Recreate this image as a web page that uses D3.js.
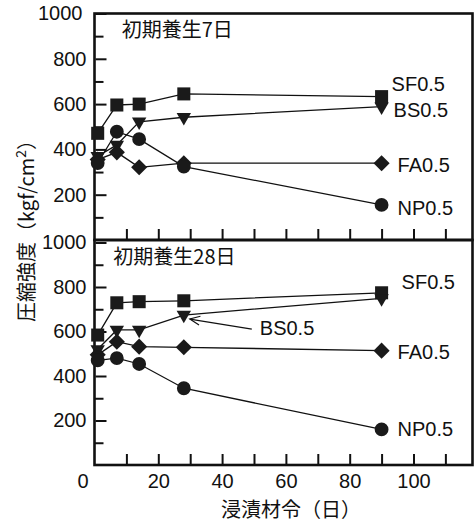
<!DOCTYPE html>
<html>
<head>
<meta charset="utf-8">
<script src="https://cdn.jsdelivr.net/npm/d3@7"></script>
<style>
  body { margin: 0; background: #fff; }
  svg { display: block; }
  text { font-family: "Liberation Sans", Arial, sans-serif; fill: #111; }
  .jp { font-family: "Noto Sans CJK JP", sans-serif; }
</style>
</head>
<body>
<div id="chart"></div>
<script>
// ages of immersion (days)
const days = [1, 7, 14, 28, 90];

// initial curing 7 days
const sf7 = [471, 596, 600, 645, 633];
const bs7 = [370, 420, 522, 542, 589];
const fa7 = [355, 387, 321, 339, 339];
const np7 = [340, 478, 445, 324, 155];

// initial curing 28 days
const sf28 = [584, 729, 734, 738, 774];
const bs28 = [520, 607, 607, 674, 749];
const fa28 = [495, 554, 532, 529, 514];
const np28 = [470, 480, 454, 345, 160];

const seriesNames = ["SF0.5", "BS0.5", "FA0.5", "NP0.5"];
const panelTitles = ["初期養生7日", "初期養生28日"];
const yMajor = [200, 400, 600, 800, 1000];
const yMinor = [100, 300, 500, 700, 900];
const xLabels = [0, 20, 40, 60, 80, 100];
const xTicks = [10, 20, 30, 40, 50, 60, 70, 80, 90, 100, 110];

const WD = 476, HT = 522;
const left = 94.5, right = 472.5;

const svg = d3.select("#chart").append("svg")
    .attr("width", WD)
    .attr("height", HT);

const x = d3.scaleLinear().domain([0, 118.5]).range([left, right]);

// marker shapes (diamond = rotated square)
const shapes = {
  "SF0.5": d3.symbol().type(d3.symbolSquare).size(170),
  "BS0.5": d3.symbol().type(d3.symbolTriangle).size(90),
  "FA0.5": d3.symbol().type(d3.symbolSquare).size(130),
  "NP0.5": d3.symbol().type(d3.symbolCircle).size(150)
};
const rot = { "SF0.5": 0, "BS0.5": 180, "FA0.5": 45, "NP0.5": 0 };

// label offsets from the last point of each series
const panels = [
  {
    title: panelTitles[0], top: 13.5, bottom: 240, yr: [240, 13.5],
    titlePos: [121.7, 30],
    series: [sf7, bs7, fa7, np7],
    labelOff: [[10, -13], [12, 3.5], [16, 2], [16, 3]]
  },
  {
    title: panelTitles[1], top: 240, bottom: 465, yr: [465, 242.5],
    titlePos: [113.3, 257],
    series: [sf28, bs28, fa28, np28],
    labelOff: [[20, -11], null, [16, 1], [16, 0]]
  }
];

panels.forEach(function(p, pi) {
  const y = d3.scaleLinear().domain([0, 1000]).range(p.yr);
  const g = svg.append("g");

  // y ticks (major, with labels)
  const ya = g.append("g")
      .attr("transform", "translate(" + left + ",0)")
      .call(d3.axisLeft(y).tickValues(yMajor).tickSize(-12).tickPadding(8).tickFormat(d3.format("d")));
  ya.select(".domain").remove();
  ya.selectAll("line").attr("stroke", "#111").attr("stroke-width", 2).attr("x1", 1);
  ya.selectAll("text").attr("font-size", 20).attr("fill", "#111")
      .attr("font-family", "Liberation Sans, Arial, sans-serif");
  if (pi == 0) {
    ya.selectAll(".tick").filter(d => d == 1000).select("text").attr("dx", -4);
  }

  // minor y ticks
  const ym = g.append("g")
      .attr("transform", "translate(" + left + ",0)")
      .call(d3.axisLeft(y).tickValues(yMinor).tickSize(-9).tickFormat(""));
  ym.select(".domain").remove();
  ym.selectAll("line").attr("stroke", "#111").attr("stroke-width", 2);

  // x ticks along panel bottom
  const xa = g.append("g")
      .attr("transform", "translate(0," + p.bottom + ")")
      .call(d3.axisBottom(x).tickValues(xTicks).tickSize(-11).tickFormat(""));
  xa.select(".domain").remove();
  xa.selectAll("line").attr("stroke", "#111").attr("stroke-width", 2);

  // frame
  g.append("rect")
      .attr("x", left).attr("y", p.top)
      .attr("width", right - left).attr("height", p.bottom - p.top)
      .attr("fill", "none").attr("stroke", "#111").attr("stroke-width", 2.6);

  // panel title
  g.append("text").attr("class", "jp")
      .attr("x", p.titlePos[0]).attr("y", p.titlePos[1])
      .attr("dy", "0.35em")
      .attr("font-size", 20)
      .text(p.title);

  const line = d3.line().x((d, i) => x(days[i])).y(d => y(d));

  p.series.forEach(function(vals) {
    g.append("path")
        .attr("d", line(vals))
        .attr("fill", "none")
        .attr("stroke", "#111")
        .attr("stroke-width", 1.3);
  });

  p.series.forEach(function(vals, si) {
    const name = seriesNames[si];
    g.selectAll(null)
        .data(vals)
        .enter().append("path")
        .attr("d", shapes[name])
        .attr("transform", (d, i) => "translate(" + x(days[i]) + "," + y(d) + ") rotate(" + rot[name] + ")")
        .attr("fill", "#1a1a1a");

    const off = p.labelOff[si];
    if (off) {
      const last = vals.length - 1;
      g.append("text")
          .attr("x", x(days[last]) + off[0])
          .attr("y", y(vals[last]) + off[1])
          .attr("dy", "0.35em")
          .attr("font-size", 20)
          .text(name);
    }
  });

  // BS0.5 callout with arrow in lower panel
  if (pi == 1) {
    const tx = x(days[3]) + 6, ty = y(bs28[3]) + 4;
    const ex = tx + 62, ey = ty + 10;
    g.append("line")
        .attr("x1", ex).attr("y1", ey).attr("x2", tx).attr("y2", ty)
        .attr("stroke", "#111").attr("stroke-width", 1.2);
    const ang = Math.atan2(ey - ty, ex - tx);
    const hl = 11, ha = 0.42;
    g.append("path")
        .attr("d", "M" + (tx + hl * Math.cos(ang - ha)) + "," + (ty + hl * Math.sin(ang - ha)) +
                   "L" + tx + "," + ty +
                   "L" + (tx + hl * Math.cos(ang + ha)) + "," + (ty + hl * Math.sin(ang + ha)))
        .attr("fill", "none").attr("stroke", "#111").attr("stroke-width", 1.2);
    g.append("text")
        .attr("x", x(days[3]) + 76)
        .attr("y", y(bs28[3]) + 13)
        .attr("dy", "0.35em")
        .attr("font-size", 20)
        .text("BS0.5");
  }

  // x labels under bottom panel
  if (pi == 1) {
    const xl = g.append("g")
        .attr("transform", "translate(0," + p.bottom + ")")
        .call(d3.axisBottom(x).tickValues(xLabels).tickSize(0).tickPadding(9));
    xl.select(".domain").remove();
    xl.selectAll("text").attr("font-size", 20).attr("fill", "#111")
        .attr("font-family", "Liberation Sans, Arial, sans-serif");
    xl.selectAll(".tick").filter(d => d == 0).select("text").attr("dx", -12);
  }
});

// axis titles
svg.append("text").attr("class", "jp")
    .attr("transform", "translate(27,226) rotate(-90)")
    .attr("text-anchor", "middle")
    .attr("dy", "0.35em")
    .attr("font-size", 20)
    .html("圧縮強度（kgf/cm<tspan dy='-8' font-size='14'>2</tspan><tspan dy='8'>）</tspan>");

svg.append("text").attr("class", "jp")
    .attr("x", 291).attr("y", 510)
    .attr("text-anchor", "middle")
    .attr("dy", "0.35em")
    .attr("font-size", 20)
    .text("浸漬材令（日）");
</script>
</body>
</html>
